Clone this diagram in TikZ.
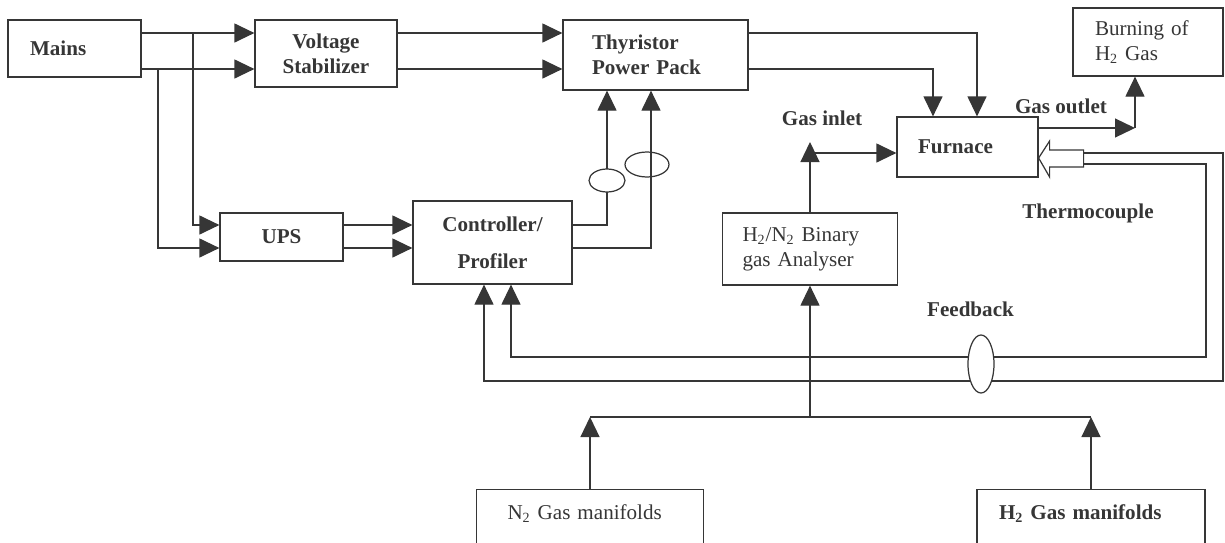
\documentclass[tikz,border=0pt]{standalone}
\usepackage{fontspec}
\setmainfont{Liberation Serif}
\usetikzlibrary{
  positioning,
  arrows.meta,
  shapes.geometric,
  calc
}
\definecolor{fdGray}{HTML}{363636}

\begin{document}
\begin{tikzpicture}[
  color=fdGray,
  every node/.style={font=\fontsize{12}{14}\selectfont, align=center},
  unit/.style={
    rectangle, draw, line width=0.7pt,
    font=\fontsize{12}{14}\selectfont\bfseries
  },
  plain/.style={rectangle, draw, line width=0.7pt},
  tag/.style={font=\fontsize{12}{14}\selectfont\bfseries},
  ring/.style={ellipse, draw, line width=0.7pt, inner sep=0pt},
  wire/.style={line width=0.7pt},
  arrow/.style={-{Triangle[length=4mm,width=3.8mm]}, line width=0.7pt}
]
 \useasboundingbox (0,0) rectangle (24.5,10.84);

 % Top row -- supply chain
 \node[unit, minimum width=2.66cm, minimum height=1.14cm, text width=1.78cm, align=left] (mains) at ( 1.49, 9.87) {Mains};
 \node[unit, minimum width=2.84cm, minimum height=1.34cm] (vstab) at ( 6.52, 9.77) {Voltage\\Stabilizer};
 \node[unit, minimum width=3.7cm, minimum height=1.4cm, text width=2.54cm, align=left] (thyr) at (13.11, 9.74) {Thyristor\\Power Pack};
 \node[unit, minimum width=2.82cm, minimum height=1.2cm, text width=1.98cm, align=left] (furn) at (19.35, 7.90) {Furnace};
 \node[plain, minimum width=3.0cm, minimum height=1.36cm, text width=2.12cm, align=left] (burn) at (22.96,10.00) {Burning of\\H\textsubscript{2} Gas};

 % Middle row -- control
 \node[unit, minimum width=2.46cm, minimum height=0.96cm] (ups) at ( 5.63, 6.10) {UPS};
 \node[unit, minimum width=3.18cm, minimum height=1.66cm] (ctrl) at ( 9.85, 5.99) {Controller/\\[7pt]Profiler};
 \node[plain, minimum width=3.5cm, minimum height=1.44cm, text width=2.7cm, align=left] (ana) at (16.20, 5.86) {H\textsubscript{2}/N\textsubscript{2} Binary\\gas Analyser};

 % Bottom row -- gas supply (runs off the page)
 \node[plain, anchor=north, minimum width=4.54cm, text width=3.3cm, align=left,
   text height=8.5pt, text depth=2cm, inner ysep=8.5pt] (n2) at (11.80, 1.06) {N\textsubscript{2} Gas manifolds};
 \node[unit, anchor=north, minimum width=4.56cm, text width=3.68cm, align=left,
   text height=8.5pt, text depth=2cm, inner ysep=8.5pt] (h2) at (21.82, 1.06) {H\textsubscript{2} Gas manifolds};

 % Free labels
 \node[tag] (gin)  at (16.44, 8.48) {Gas inlet};
 \node[tag] (gout) at (21.22, 8.72) {Gas outlet};
 \node[tag] (tcl)  at (21.76, 6.58) {Thermocouple};
 \node[tag] (fbl)  at (19.41, 4.66) {Feedback};

 \coordinate (rowA) at (0,10.18); \coordinate (rowB) at (0,9.46);
 \coordinate (rowC) at (0,6.34);  \coordinate (rowD) at (0,5.88);
 \coordinate (tapA) at (3.86,10.18); \coordinate (tapB) at (3.16,9.46);

 % Power lines
 \draw[arrow] (mains.east |- rowA) -- (vstab.west |- rowA); \draw[arrow] (mains.east |- rowB) -- (vstab.west |- rowB);
 \draw[arrow] (tapA) |- (ups.west |- rowC); \draw[arrow] (tapB) |- (ups.west |- rowD);
 \draw[arrow] (vstab.east |- rowA) -- (thyr.west |- rowA); \draw[arrow] (vstab.east |- rowB) -- (thyr.west |- rowB);
 \draw[arrow] (thyr.east |- rowA) -| ([xshift=0.19cm]furn.north);
 \draw[arrow] (thyr.east |- rowB) -| ([xshift=-0.69cm]furn.north);
 \draw[arrow] (ups.east |- rowC) -- (ctrl.west |- rowC); \draw[arrow] (ups.east |- rowD) -- (ctrl.west |- rowD);
 \draw[arrow] (ctrl.east |- rowC) -| ([xshift=-0.97cm]thyr.south);
 \draw[arrow] (ctrl.east |- rowD) -| ([xshift=-0.09cm]thyr.south);
 \node[ring, fill=white, minimum width=0.72cm, minimum height=0.46cm] (rg1) at (12.14, 7.23) {};
 \node[ring, minimum width=0.88cm, minimum height=0.5cm] (rg2) at (12.94, 7.55) {};

 % Gas in and out
 \coordinate (inTip) at (16.20,8.0); \coordinate (inJoin) at (16.20,7.78);
 \draw[arrow] (ana.north) -- (inTip); \draw[arrow] (inJoin) -- (furn.west |- inJoin);
 \coordinate (outTurn) at (22.7,8.28);
 \draw[arrow] (furn.east |- outTurn) -- (outTurn); \draw[arrow] (outTurn) -- (outTurn |- burn.south);

 % Thermocouple and feedback
 \coordinate (tcTip) at ([yshift=-0.22cm]furn.east);
 \draw[wire] (tcTip) -- ++(0.22,0.34) -- ++(0,-0.18) -- ++(0.68,0) -- ++(0,-0.34) -- ++(-0.68,0) -- ++(0,-0.2) -- cycle;
 \coordinate (tcOut) at (21.66,7.78); \coordinate (tcIn) at (21.66,7.56);
 \draw[arrow] (tcOut) -- (24.46,7.78) -- (24.46,3.22) -| ([xshift=-0.17cm]ctrl.south);
 \draw[arrow] (tcIn) -- (24.12,7.56) -- (24.12,3.70) -| ([xshift=0.37cm]ctrl.south);
 \node[ring, fill=white, minimum width=0.52cm, minimum height=1.16cm] (rg3) at (19.62, 3.56) {};

 % Gas manifolds to analyser
 \coordinate (gasJoin) at (16.20,2.5);
 \draw[wire] (n2.north |- gasJoin) -- (h2.north |- gasJoin);
 \draw[arrow] (n2.north) -- (n2.north |- gasJoin); \draw[arrow] (h2.north) -- (h2.north |- gasJoin);
 \draw[arrow] (gasJoin) -- (ana.south);
\end{tikzpicture}
\end{document}
